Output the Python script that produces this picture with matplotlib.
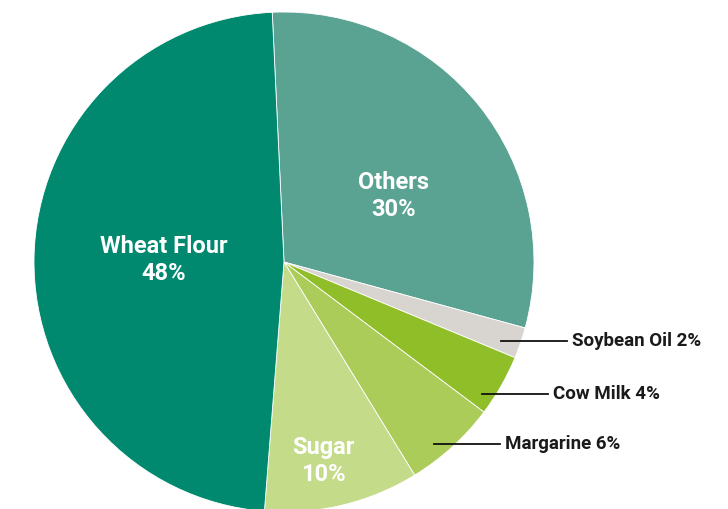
import matplotlib.pyplot as plt
import numpy as np

plt.rcParams['font.family'] = ['Roboto', 'DejaVu Sans']

# data, in drawing order (clockwise from the top)
categories = ['Others', 'Soybean Oil', 'Cow Milk', 'Margarine', 'Sugar', 'Wheat Flour']
shares = [30, 2, 4, 6, 10, 48]
colors = ['#5aa292', '#d8d5d0', '#8fbe28', '#abcc58', '#c4db8a', '#00896f']
inside = ['Others', 'Sugar', 'Wheat Flour']

W, H = 728, 509
fig = plt.figure(figsize=(W / 100, H / 100), dpi=100)
ax = fig.add_axes([0, 0, 1, 1])

cx, cy, R = 284, 247, 250
wedges, _ = ax.pie(shares, colors=colors, startangle=92.7, counterclock=False,
                   center=(cx, cy), radius=R, frame=True,
                   wedgeprops=dict(edgecolor='white', linewidth=0.6))
ax.set_xlim(0, W)
ax.set_ylim(0, H)
ax.axis('off')

# inner labels: (radius fraction, angle shift in degrees)
inner_pos = {'Others': (0.513, -7.7), 'Sugar': (0.81, -2.4), 'Wheat Flour': (0.48, 0)}
# outer labels: (radius fraction of leader start, angle shift, line end x)
outer_pos = {'Soybean Oil': (0.924, -1.1, 567),
             'Cow Milk': (0.952, -4.0, 548),
             'Margarine': (0.943, -2.8, 500)}

for w, name, s in zip(wedges, categories, shares):
    mid = np.deg2rad((w.theta1 + w.theta2) / 2)
    if name in inside:
        f, shift = inner_pos[name]
        a = mid + np.deg2rad(shift)
        ax.text(cx + f * R * np.cos(a), cy + f * R * np.sin(a), f'{name}\n{s}%',
                ha='center', va='center', color='white', fontsize=17,
                fontweight='bold', linespacing=1.2)
    else:
        f, shift, x_end = outer_pos[name]
        a = mid + np.deg2rad(shift)
        x0, y0 = cx + f * R * np.cos(a), cy + f * R * np.sin(a)
        ax.plot([x0, x_end], [y0, y0], color='#111111', lw=1.3)
        ax.text(x_end + 5, y0, f'{name} {s}%', ha='left', va='center',
                color='#1a1a1a', fontsize=13.5, fontweight='bold')

fig.savefig('out.png', dpi=100)
